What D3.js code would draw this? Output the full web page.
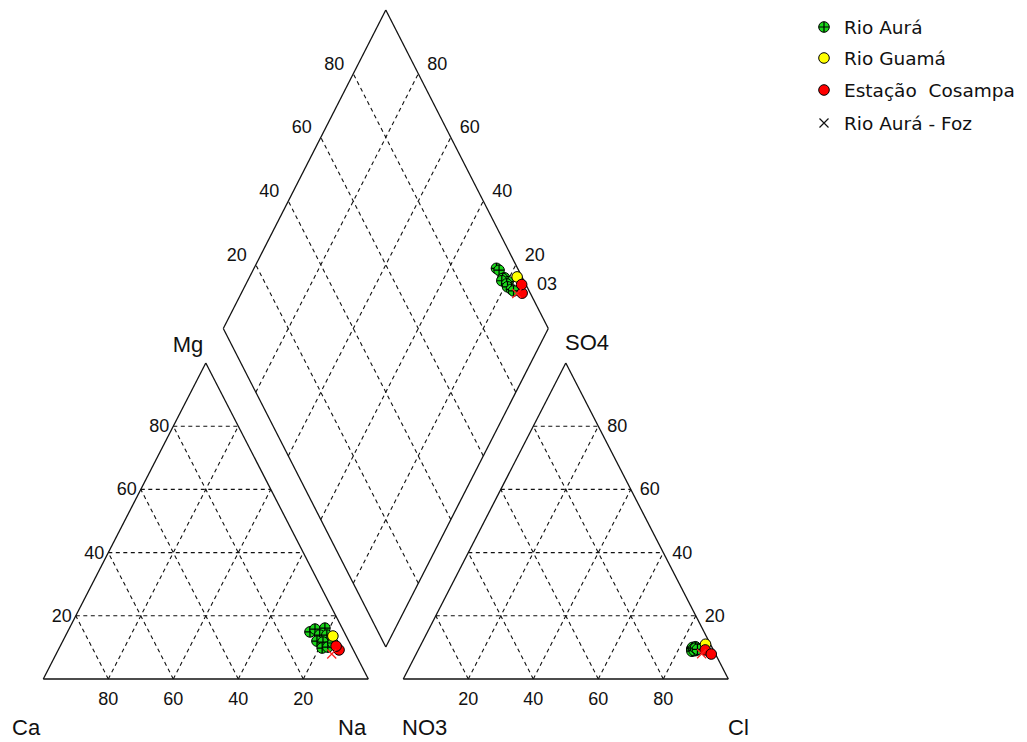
<!DOCTYPE html>
<html>
<head>
<meta charset="utf-8">
<script src="https://cdn.jsdelivr.net/npm/d3@7"></script>
<style>
  body { margin: 0; background: #fff; }
  text { font-family: "Liberation Sans", Arial, sans-serif; fill: #111; }
</style>
</head>
<body>
<svg width="1027" height="742"></svg>
<script>
// sample groups and legend
var groups = ["Rio Aurá", "Rio Guamá", "Estação  Cosampa", "Rio Aurá - Foz"];
var groupFill = ["#19d619", "#ffff00", "#ff0000", "none"];

// one entry per sample (percent of meq)
var sampleGroup = [0, 0, 0, 0, 0, 0, 0, 0, 0, 0, 1, 2, 2, 3];
var ca  = [10.5, 8.5, 5.3, 8.0, 5.8, 9.8, 8.1, 9.3, 7.4, 5.2, 4.1, 4.4, 4.7, 7.3];
var mg  = [14.9, 15.8, 16.1, 13.9, 13.9, 12.0, 11.7, 9.8, 10.1, 11.4, 13.6, 9.2, 10.4, 7.9];
var na  = [74.6, 75.7, 78.6, 78.1, 80.3, 78.2, 80.2, 80.9, 82.5, 83.4, 82.3, 86.4, 84.9, 84.8];
var no3 = [6.5, 6.0, 5.5, 6.2, 5.0, 6.8, 5.8, 6.0, 5.2, 4.8, 1.5, 2.5, 1.3, 4.2];
var so4 = [9.5, 10.0, 9.0, 9.2, 10.2, 8.8, 9.6, 9.0, 9.8, 9.4, 11.0, 9.2, 7.9, 8.0];
var cl  = [84.0, 84.0, 85.5, 84.6, 84.8, 84.4, 84.6, 85.0, 85.0, 85.8, 87.5, 88.3, 90.8, 87.8];

var ticks = [20, 40, 60, 80];

var svg = d3.select("svg");

// scales
var xCat = d3.scaleLinear().domain([0, 100]).range([43.3, 368.3]);
var xAn  = d3.scaleLinear().domain([0, 100]).range([403.3, 728.3]);
var yTri = d3.scaleLinear().domain([0, 100]).range([679, 363]);
var xDia = d3.scaleLinear().domain([-100, 100]).range([223.3, 548.3]);
var yDia = d3.scaleLinear().domain([0, 200]).range([647, 10]);

// a = right corner component, b = top component
function catPt(a, b) { return [xCat(a + b / 2), yTri(b)]; }
function anPt(a, b) { return [xAn(a + b / 2), yTri(b)]; }
// u = SO4+Cl, v = Ca+Mg
function diaPt(u, v) { return [xDia(u - v), yDia(u + v)]; }

function seg(g, p1, p2, dashed) {
  g.append("line")
      .attr("x1", p1[0]).attr("y1", p1[1])
      .attr("x2", p2[0]).attr("y2", p2[1])
      .attr("stroke", "#111")
      .attr("stroke-width", dashed ? 1.1 : 1.3)
      .attr("stroke-dasharray", dashed ? "4,3.5" : null);
}

var grid = svg.append("g");
var frame = svg.append("g");

// triangles
[catPt, anPt].forEach(function(pt) {
  ticks.forEach(function(k) {
    seg(grid, pt(0, k), pt(100 - k, k), true);       // horizontal
    seg(grid, pt(k, 0), pt(k, 100 - k), true);       // constant right comp
    seg(grid, pt(100 - k, 0), pt(0, 100 - k), true); // constant left comp
  });
  seg(frame, pt(0, 0), pt(100, 0));
  seg(frame, pt(100, 0), pt(0, 100));
  seg(frame, pt(0, 100), pt(0, 0));
});

// diamond
ticks.forEach(function(k) {
  seg(grid, diaPt(k, 0), diaPt(k, 100), true);
  seg(grid, diaPt(0, k), diaPt(100, k), true);
});
seg(frame, diaPt(0, 0), diaPt(100, 0));
seg(frame, diaPt(100, 0), diaPt(100, 100));
seg(frame, diaPt(100, 100), diaPt(0, 100));
seg(frame, diaPt(0, 100), diaPt(0, 0));

// tick labels
var labels = svg.append("g").style("font-size", "18px");
function label(x, y, txt, anchor) {
  labels.append("text").attr("x", x).attr("y", y)
      .attr("text-anchor", anchor || "middle").text(txt);
}
ticks.forEach(function(k) {
  var p = catPt(0, k);
  label(p[0] - 4, p[1] + 6, k, "end");
  label(xCat(100 - k), 705, k);
  label(xAn(k), 705, k);
  p = anPt(100 - k, k);
  label(p[0] + 9, p[1] + 6, k, "start");
  p = diaPt(k, 100);
  label(p[0] - 19, p[1] - 4, k);
  p = diaPt(100, k);
  label(p[0] + 19, p[1] - 4, k);
});
label(537, 290, "03", "start");

// corner labels
var corners = svg.append("g").style("font-size", "22px");
[["Mg", 188, 352, "middle"], ["SO4", 565, 350, "start"],
 ["Ca", 12, 735, "start"], ["Na", 338, 735, "start"],
 ["NO3", 402, 735, "start"], ["Cl", 728, 735, "start"]].forEach(function(c) {
  corners.append("text").attr("x", c[1]).attr("y", c[2])
      .attr("text-anchor", c[3]).text(c[0]);
});

// markers
function marker(g, x, y, grp, legend) {
  if (grp == 3) {
    var s = 4.5;
    var col = legend ? "#111" : "#ff2020";
    g.append("path")
        .attr("d", "M" + (x - s) + "," + (y - s) + "L" + (x + s) + "," + (y + s) +
                   "M" + (x - s) + "," + (y + s) + "L" + (x + s) + "," + (y - s))
        .attr("stroke", col).attr("stroke-width", 1.2).attr("fill", "none");
    return;
  }
  g.append("circle").attr("cx", x).attr("cy", y).attr("r", 5.3)
      .attr("fill", groupFill[grp]).attr("stroke", "#000").attr("stroke-width", 1);
  if (grp == 0) {
    g.append("path")
        .attr("d", "M" + (x - 5.3) + "," + y + "H" + (x + 5.3) +
                   "M" + x + "," + (y - 5.3) + "V" + (y + 5.3))
        .attr("stroke", "#000").attr("stroke-width", 1.2);
  }
}

var points = svg.append("g");
d3.range(sampleGroup.length).forEach(function(i) {
  var g = sampleGroup[i];
  var p = catPt(na[i], mg[i]);
  marker(points, p[0], p[1], g);
  p = anPt(cl[i], so4[i]);
  marker(points, p[0], p[1], g);
  p = diaPt(so4[i] + cl[i], ca[i] + mg[i]);
  marker(points, p[0], p[1], g);
});

// legend
var legend = svg.append("g")
    .style("font-family", "'DejaVu Sans', Verdana, sans-serif")
    .style("font-size", "18.5px");
var legendY = [27, 58, 90, 123];
groups.forEach(function(name, i) {
  marker(legend, 824, legendY[i], i, true);
  legend.append("text").attr("x", 844).attr("y", legendY[i] + 6.5)
      .style("font-family", "'DejaVu Sans', Verdana, sans-serif")
      .style("white-space", "pre").text(name);
});
</script>
</body>
</html>
